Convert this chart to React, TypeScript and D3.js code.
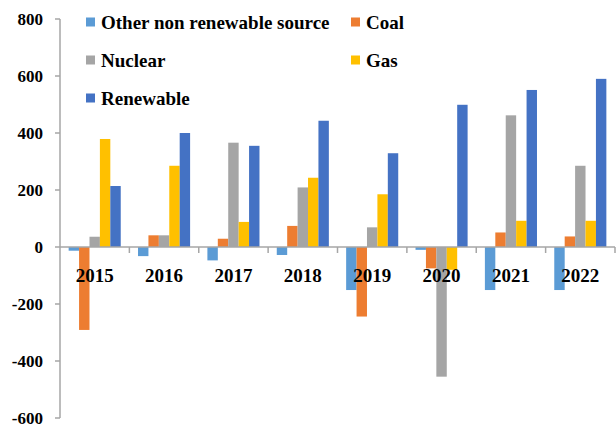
import * as d3 from "d3";

const years = ["2015", "2016", "2017", "2018", "2019", "2020", "2021", "2022"];
const series = ["Other non renewable source", "Coal", "Nuclear", "Gas", "Renewable"];
const colors = ["#5b9bd5", "#ed7d31", "#a5a5a5", "#ffc000", "#4472c4"];

const otherVals = [-13, -32, -47, -28, -151, -10, -151, -151];
const coalVals = [-291, 41, 29, 74, -244, -75, 51, 37];
const nuclearVals = [36, 41, 366, 209, 69, -455, 462, 285];
const gasVals = [379, 285, 88, 243, 185, -80, 92, 92];
const renewableVals = [214, 400, 355, 443, 329, 499, 551, 590];
const allVals = [otherVals, coalVals, nuclearVals, gasVals, renewableVals];

const yTicks = [800, 600, 400, 200, 0, -200, -400, -600];

const W = 616, H = 429;
const left = 60, right = 615, top = 19, bottom = 418;
const font = "'Liberation Serif', 'Times New Roman', serif";
const axisColor = "#a6a6a6";

export default function App() {
  const y = d3.scaleLinear().domain([-600, 800]).range([bottom, top]);
  const x0 = d3.scaleBand().domain(years).range([left, right]).padding(0);
  const x1 = d3.scaleBand().domain(series).range([0, x0.bandwidth()]).paddingInner(0).paddingOuter(0.83);
  const y0 = y(0);

  const legend = [
    { i: 0, x: 86, y: 22 },
    { i: 1, x: 351, y: 22 },
    { i: 2, x: 86, y: 60 },
    { i: 3, x: 351, y: 60 },
    { i: 4, x: 86, y: 98 },
  ];

  return (
    <svg width={W} height={H} style={{ position: "absolute", left: 0, top: 0, background: "#fff" }}>
      {/* bars */}
      {years.map((yr, j) => (
        <g key={yr} transform={`translate(${x0(yr)},0)`}>
          {series.map((s, i) => {
            const v = allVals[i][j];
            return (
              <rect
                key={s}
                x={x1(s)}
                y={Math.min(y(v), y0)}
                width={x1.bandwidth()}
                height={Math.abs(y(v) - y0)}
                fill={colors[i]}
              />
            );
          })}
        </g>
      ))}

      {/* y axis */}
      <line x1={left} x2={left} y1={top} y2={bottom} stroke={axisColor} strokeWidth={1.5} />
      {yTicks.map((t) => (
        <g key={t}>
          <line x1={left - 5} x2={left} y1={y(t)} y2={y(t)} stroke={axisColor} strokeWidth={1.5} />
          <text
            x={43}
            y={y(t)}
            dy="0.35em"
            textAnchor="end"
            fontFamily={font}
            fontWeight="bold"
            fontSize={17}
            fill="#000"
          >
            {t}
          </text>
        </g>
      ))}

      {/* x axis at zero */}
      <line x1={left} x2={right} y1={y0} y2={y0} stroke={axisColor} strokeWidth={1.5} />
      {years.map((yr) => (
        <line
          key={"t" + yr}
          x1={(x0(yr) ?? 0) + x0.bandwidth()}
          x2={(x0(yr) ?? 0) + x0.bandwidth()}
          y1={y0}
          y2={y0 + 6}
          stroke={axisColor}
          strokeWidth={1.5}
        />
      ))}
      {years.map((yr) => (
        <text
          key={"l" + yr}
          x={(x0(yr) ?? 0) + x0.bandwidth() / 2}
          y={275}
          dy="0.35em"
          textAnchor="middle"
          fontFamily={font}
          fontWeight="bold"
          fontSize={19}
          fill="#000"
        >
          {yr}
        </text>
      ))}

      {/* legend */}
      {legend.map((l) => (
        <g key={series[l.i]}>
          <rect x={l.x} y={l.y - 4.5} width={9} height={9} fill={colors[l.i]} />
          <text
            x={l.x + 15}
            y={l.y}
            dy="0.35em"
            fontFamily={font}
            fontWeight="bold"
            fontSize={19}
            fill="#000"
          >
            {series[l.i]}
          </text>
        </g>
      ))}
    </svg>
  );
}
